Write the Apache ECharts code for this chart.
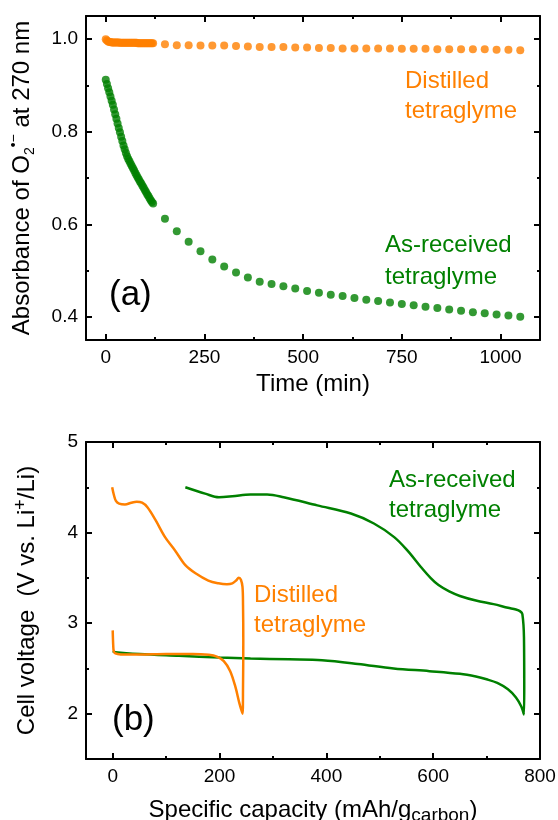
<!DOCTYPE html>
<html>
<head>
<meta charset="utf-8">
<script src="https://cdn.jsdelivr.net/npm/echarts@6/dist/echarts.min.js"></script>
<style>
html,body{margin:0;padding:0;background:#fff}
#main{width:558px;height:820px}
</style>
</head>
<body>
<div id="main"></div>
<script>
// ---- (a) absorbance of superoxide vs time ----
var timeDense = [0,3,6,9,12,15,18,21,24,27,30,33,36,39,42,45,48,51,54,57,60,
                 63,66,69,72,75,78,81,84,87,90,93,96,99,102,105,108,111,114,117,120];
var distilledDense = [1.000,0.997,0.995,0.994,0.994,0.993,0.993,0.993,0.993,0.993,
                      0.993,0.993,0.992,0.992,0.992,0.992,0.992,0.992,0.992,0.992,
                      0.992,0.992,0.992,0.992,0.992,0.992,0.992,0.991,0.991,0.991,
                      0.991,0.991,0.991,0.991,0.991,0.991,0.991,0.991,0.991,0.991,0.991];
var asReceivedDense = [0.912,0.903,0.894,0.885,0.876,0.867,0.858,0.848,0.838,0.828,
                       0.818,0.808,0.799,0.789,0.780,0.770,0.762,0.754,0.747,0.741,
                       0.736,0.731,0.726,0.721,0.716,0.711,0.706,0.701,0.697,0.692,
                       0.688,0.683,0.679,0.674,0.670,0.665,0.661,0.656,0.652,0.648,0.645];
var timeSparse = [150,180,210,240,270,300,330,360,390,420,450,480,510,540,570,600,
                  630,660,690,720,750,780,810,840,870,900,930,960,990,1020,1050];
var distilledSparse = [0.989,0.987,0.987,0.986,0.986,0.986,0.985,0.984,0.983,0.983,
                       0.983,0.982,0.982,0.981,0.981,0.980,0.980,0.980,0.980,0.980,
                       0.979,0.979,0.979,0.978,0.978,0.978,0.978,0.978,0.977,0.977,0.976];
var asReceivedSparse = [0.612,0.585,0.562,0.542,0.524,0.509,0.496,0.485,0.476,0.471,
                        0.466,0.461,0.456,0.452,0.448,0.445,0.441,0.437,0.434,0.431,
                        0.428,0.425,0.422,0.419,0.416,0.413,0.410,0.408,0.405,0.403,0.400];
var timeTicks = [0,250,500,750,1000], timeMinor = [125,375,625,875];
var absTicks = [0.4,0.6,0.8,1.0], absMinor = [0.5,0.7,0.9];

// ---- (b) discharge / charge profiles ----
var distilledCap = [0,1,2,5,15,50,100,150,180,195,208,220,230,237,243,
                    244,244.5,244,243,240,236,231,224,214,198,179,155,136,117,98,80,65,55,45,35,23,12,6,2,-1];
var distilledVolt = [2.92,2.75,2.69,2.665,2.655,2.655,2.66,2.66,2.65,2.63,2.58,2.47,2.29,2.12,2.00,
                     2.30,2.80,3.20,3.40,3.48,3.50,3.47,3.44,3.43,3.44,3.47,3.55,3.64,3.80,3.95,4.14,4.28,4.33,4.34,4.33,4.31,4.32,4.35,4.42,4.50];
var asReceivedCap = [0,5,50,124,200,258,330,392,459,526,593,650,680,700,720,740,755,765,770,
                     770.5,770,767,763,755,740,713,680,650,630,610,595,577,552,527,489,446,383,320,289,258,224,199,173,136];
var asReceivedVolt = [2.69,2.68,2.66,2.64,2.62,2.61,2.60,2.59,2.55,2.50,2.47,2.44,2.41,2.38,2.34,2.27,2.18,2.08,1.99,
                      2.30,2.84,3.10,3.13,3.15,3.17,3.21,3.25,3.30,3.35,3.42,3.50,3.62,3.80,3.95,4.10,4.21,4.30,4.39,4.42,4.42,4.40,4.39,4.43,4.50];
var capTicks = [0,200,400,600,800], capMinor = [100,300,500,700];
var voltTicks = [2,3,4,5], voltMinor = [2.5,3.5,4.5];

var ORANGE = '#ff8000', GREEN = '#008000';
var FONT = 'Liberation Sans, Arial, sans-serif';

function pairs(xs, ys) {
    return xs.map(function (x, i) { return [x, ys[i]]; });
}
function plain(v) { return String(v); }

// 4 axes per side: labelled main, mirrored major, and both minor tick rows
function makeAxes(grid, dim, min, max, major, minor, fmt, name, nameGap, rich) {
    var sides = dim === 'x' ? ['bottom', 'top'] : ['left', 'right'];
    var list = [];
    [major, minor].forEach(function (vals, k) {
        sides.forEach(function (pos, s) {
            var ax = {
                type: 'value', gridIndex: grid, position: pos, min: min, max: max,
                splitLine: { show: false },
                axisLine: { show: k === 0, onZero: false, lineStyle: { color: '#000', width: 2 } },
                axisTick: { show: true, inside: true, length: k === 0 ? 6 : 3, customValues: vals,
                            lineStyle: { color: '#000', width: 2 } },
                axisLabel: { show: k === 0 && s === 0, customValues: vals, formatter: fmt,
                             fontSize: 19, fontFamily: FONT, color: '#000', margin: 8 }
            };
            if (k === 0 && s === 0) {
                ax.name = name;
                ax.nameLocation = 'middle';
                ax.nameGap = nameGap;
                if (dim === 'y') ax.nameRotate = 90;
                ax.nameTextStyle = { fontSize: 24, fontFamily: FONT, color: '#000', rich: rich };
            }
            list.push(ax);
        });
    });
    return list;
}

var richA = {
    t: { fontSize: 24, fontFamily: FONT, color: '#000', lineHeight: 30 },
    sub: { fontSize: 14, fontFamily: FONT, color: '#000', lineHeight: 14, verticalAlign: 'bottom' },
    sup: { fontSize: 14, fontFamily: FONT, color: '#000', lineHeight: 14, verticalAlign: 'top' }
};

var xAxes = makeAxes(0, 'x', -50, 1100, timeTicks, timeMinor, plain, 'Time (min)', 32)
    .concat(makeAxes(1, 'x', -50, 800, capTicks, capMinor, plain,
        '{t|Specific capacity (mAh/g}{sub|carbon}{t|)}', 36, {
            t: { fontSize: 24, fontFamily: FONT, color: '#000', lineHeight: 30 },
            sub: { fontSize: 19, fontFamily: FONT, color: '#000', lineHeight: 19, verticalAlign: 'bottom' }
        }));
var yAxes = makeAxes(0, 'y', 0.35, 1.05, absTicks, absMinor,
        function (v) { return v.toFixed(1); },
        '{t|Absorbance of O}{sub|2}{sup|•−}{t| at 270 nm}', 49, richA)
    .concat(makeAxes(1, 'y', 1.5, 5, voltTicks, voltMinor, plain,
        '{t|Cell voltage  (V vs. Li}{sup|+}{t|/Li)}', 44, {
            t: { fontSize: 24, fontFamily: FONT, color: '#000', lineHeight: 30 },
            sup: { fontSize: 18, fontFamily: FONT, color: '#000', lineHeight: 18, verticalAlign: 'top' }
        }));

function dots(xs, ys, color) {
    return { type: 'scatter', xAxisIndex: 0, yAxisIndex: 0, symbolSize: 8, silent: true,
             itemStyle: { color: color }, data: pairs(xs, ys) };
}
function curve(xs, ys, color) {
    return { type: 'line', xAxisIndex: 4, yAxisIndex: 4, showSymbol: false, smooth: 0.35,
             silent: true, lineStyle: { color: color, width: 2.5 }, data: pairs(xs, ys) };
}

function note(text, x, y, size, color, lh) {
    return { type: 'text', left: x, top: y, silent: true,
             style: { text: text, fill: color, fontSize: size, fontFamily: FONT, lineHeight: lh || size } };
}

var myChart = echarts.init(document.getElementById('main'));
var option = {
    animation: false,
    backgroundColor: '#fff',
    grid: [
        { left: 86, right: 18, top: 16, height: 324, outerBoundsMode: 'none' },
        { left: 86, right: 18, top: 442, height: 317, outerBoundsMode: 'none' }
    ],
    xAxis: xAxes,
    yAxis: yAxes,
    series: [
        dots(timeDense, distilledDense, ORANGE),
        dots(timeSparse, distilledSparse, ORANGE),
        dots(timeDense, asReceivedDense, GREEN),
        dots(timeSparse, asReceivedSparse, GREEN),
        curve(asReceivedCap, asReceivedVolt, GREEN),
        curve(distilledCap, distilledVolt, ORANGE)
    ],
    graphic: [
        note('Distilled\ntetraglyme', 405, 66, 24, ORANGE, 30),
        note('As-received\ntetraglyme', 385, 229, 24, GREEN, 32),
        note('(a)', 109, 278, 35, '#000'),
        note('As-received\ntetraglyme', 389, 465, 24, GREEN, 30),
        note('Distilled\ntetraglyme', 254, 580, 24, ORANGE, 30),
        note('(b)', 112, 703, 35, '#000')
    ]
};
myChart.setOption(option);
</script>
</body>
</html>
